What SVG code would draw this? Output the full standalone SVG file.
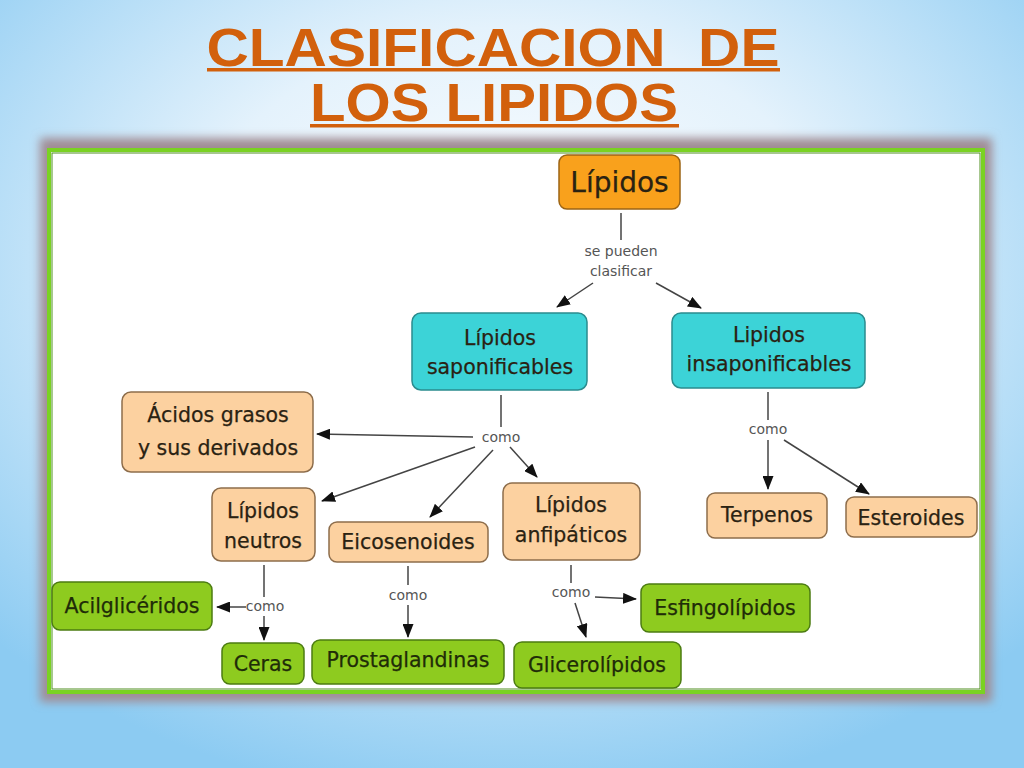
<svg xmlns="http://www.w3.org/2000/svg" width="1024" height="768" viewBox="0 0 1024 768">
<defs>
<radialGradient id="bg" cx="0.5" cy="0.35" r="0.7">
<stop offset="0" stop-color="#ffffff"/>
<stop offset="0.45" stop-color="#e4f2fc"/>
<stop offset="1" stop-color="#8ccbf2"/>
</radialGradient>
<filter id="blur" x="-5%" y="-5%" width="110%" height="110%"><feGaussianBlur stdDeviation="5"/></filter>
<marker id="ah" viewBox="0 0 14 11" refX="13" refY="5.5" markerWidth="14" markerHeight="11" markerUnits="userSpaceOnUse" orient="auto">
<path d="M0,0 L14,5.5 L0,11 Z" fill="#111"/>
</marker>
<style>
.title{font-family:"Liberation Sans",Arial,sans-serif;font-weight:bold;font-size:54px;fill:#d2600c;text-anchor:middle}
.n{font-family:"DejaVu Sans",Verdana,sans-serif;font-size:20.5px;text-anchor:middle;fill:#2a2212;stroke:#2a2212;stroke-width:0.25}
.g{fill:#1f2c08;stroke:#1f2c08}
.lbl{font-family:"DejaVu Sans",Verdana,sans-serif;font-size:14px;text-anchor:middle;fill:#555}
.or{fill:#f9a11c;stroke:#9c6414;stroke-width:1.5}
.cy{fill:#3cd3d7;stroke:#2a8c8e;stroke-width:1.5}
.pe{fill:#fcd1a0;stroke:#8d6d4b;stroke-width:1.5}
.gr{fill:#8ecb1f;stroke:#4c7c12;stroke-width:1.5}
.c line{stroke:#444;stroke-width:1.5}
.c .a{marker-end:url(#ah)}
</style>
</defs>
<rect width="1024" height="768" fill="url(#bg)"/>
<g id="title">
<text class="title" x="493" y="66" textLength="573" lengthAdjust="spacingAndGlyphs" xml:space="preserve">CLASIFICACION  DE</text>
<rect x="207" y="68" width="573" height="3.5" fill="#d2600c"/>
<text class="title" x="494" y="121" textLength="368" lengthAdjust="spacingAndGlyphs">LOS LIPIDOS</text>
<rect x="310" y="124" width="369" height="3.5" fill="#d2600c"/>
</g>
<g id="frame">
<rect x="40" y="138" width="952" height="564" fill="#a08c94" filter="url(#blur)"/>
<rect x="49" y="150" width="934" height="542" fill="#ffffff" stroke="#7ad222" stroke-width="4"/>
<rect x="52" y="153" width="928" height="536" fill="none" stroke="#4f8f1e" stroke-width="1"/>
</g>
<g class="c" id="connectors">
<line x1="621" y1="213" x2="621" y2="240"/>
<line class="a" x1="593" y1="283" x2="557" y2="307"/>
<line class="a" x1="656" y1="283" x2="701" y2="308"/>
<line x1="501" y1="395" x2="501" y2="427"/>
<line class="a" x1="473" y1="437" x2="317" y2="434"/>
<line class="a" x1="475" y1="447" x2="322" y2="501"/>
<line class="a" x1="493" y1="450" x2="430" y2="517"/>
<line class="a" x1="510" y1="447" x2="537" y2="477"/>
<line x1="768" y1="392" x2="768" y2="420"/>
<line class="a" x1="768" y1="440" x2="768" y2="489"/>
<line class="a" x1="784" y1="440" x2="869" y2="494"/>
<line x1="264" y1="565" x2="264" y2="597"/>
<line class="a" x1="246" y1="607" x2="217" y2="607"/>
<line class="a" x1="264" y1="616" x2="264" y2="640"/>
<line x1="408" y1="566" x2="408" y2="585"/>
<line class="a" x1="408" y1="605" x2="408" y2="637"/>
<line x1="571" y1="565" x2="571" y2="583"/>
<line class="a" x1="595" y1="597" x2="636" y2="599"/>
<line class="a" x1="575" y1="603" x2="586" y2="637"/>
<text class="lbl" x="621" y="256">se pueden</text>
<text class="lbl" x="621" y="276">clasificar</text>
<text class="lbl" x="501" y="442">como</text>
<text class="lbl" x="768" y="434">como</text>
<text class="lbl" x="265" y="611">como</text>
<text class="lbl" x="408" y="600">como</text>
<text class="lbl" x="571" y="597">como</text>
</g>
<g id="n-lipidos"><rect class="or" x="559" y="155" width="121" height="54" rx="8"/><text class="n" style="font-size:28px" x="619.5" y="192">Lípidos</text></g>
<g id="n-sapon"><rect class="cy" x="412" y="313" width="175" height="77" rx="9"/><text class="n" x="500" y="345">Lípidos</text><text class="n" x="500" y="374">saponificables</text></g>
<g id="n-insapon"><rect class="cy" x="672" y="313" width="193" height="75" rx="9"/><text class="n" x="769" y="342">Lipidos</text><text class="n" x="769" y="371">insaponificables</text></g>
<g id="n-acidos"><rect class="pe" x="122" y="392" width="191" height="80" rx="9"/><text class="n" x="218" y="422">Ácidos grasos</text><text class="n" x="218" y="455">y sus derivados</text></g>
<g id="n-neutros"><rect class="pe" x="212" y="488" width="103" height="73" rx="9"/><text class="n" x="263" y="518">Lípidos</text><text class="n" x="263" y="548">neutros</text></g>
<g id="n-eico"><rect class="pe" x="329" y="522" width="159" height="40" rx="8"/><text class="n" x="408" y="549">Eicosenoides</text></g>
<g id="n-anfi"><rect class="pe" x="503" y="483" width="137" height="77" rx="9"/><text class="n" x="571" y="512">Lípidos</text><text class="n" x="571" y="542">anfipáticos</text></g>
<g id="n-terpenos"><rect class="pe" x="707" y="493" width="120" height="45" rx="8"/><text class="n" x="767" y="522">Terpenos</text></g>
<g id="n-esteroides"><rect class="pe" x="846" y="497" width="131" height="40" rx="8"/><text class="n" x="911" y="525">Esteroides</text></g>
<g id="n-acil"><rect class="gr" x="52" y="582" width="160" height="48" rx="8"/><text class="n g" x="132" y="613">Acilglicéridos</text></g>
<g id="n-ceras"><rect class="gr" x="222" y="643" width="82" height="41" rx="8"/><text class="n g" x="263" y="671">Ceras</text></g>
<g id="n-prosta"><rect class="gr" x="312" y="640" width="192" height="44" rx="8"/><text class="n g" x="408" y="667">Prostaglandinas</text></g>
<g id="n-esfingo"><rect class="gr" x="641" y="584" width="169" height="48" rx="8"/><text class="n g" x="725" y="615">Esfingolípidos</text></g>
<g id="n-glicero"><rect class="gr" x="514" y="642" width="167" height="46" rx="8"/><text class="n g" x="597" y="672">Glicerolípidos</text></g>
</svg>
